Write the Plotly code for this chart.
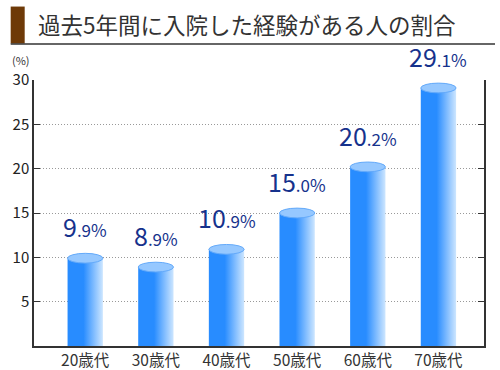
import plotly.graph_objects as go

categories = ["20歳代", "30歳代", "40歳代", "50歳代", "60歳代", "70歳代"]
values = [9.9, 8.9, 10.9, 15.0, 20.2, 29.1]
y_ticks = [5, 10, 15, 20, 25, 30]
title_text = "過去5年間に入院した経験がある人の割合"
unit_text = "(%)"

FONT = "Noto Sans CJK JP"
W, H = 500, 370
ML, MR, MT, MB = 34.3, 16, 79.5, 24.3
PW = W - ML - MR
PH = H - MT - MB

def px_x(p):
    return (p - ML) / PW

def px_y(p):
    return 1 - (p - MT) / PH

body_dark = "rgb(40,140,255)"
body_light = "rgb(205,230,255)"
top_fill = "rgb(150,200,255)"
top_line = "rgb(100,170,250)"
label_color = "rgb(22,50,140)"

bw = 0.5
ell_h = 1.1

fig = go.Figure()
shapes = []
annotations = []
for i, (c, v) in enumerate(zip(categories, values)):
    x0, x1 = i - bw / 2, i + bw / 2
    fig.add_trace(go.Scatter(
        x=[x0, x1, x1, x0, x0], y=[0, 0, v, v, 0],
        mode="lines", line=dict(width=0), fill="toself",
        fillgradient=dict(type="horizontal",
                          colorscale=[[0, body_dark], [0.45, body_dark], [1, body_light]]),
        hoverinfo="skip", showlegend=False,
    ))
    shapes.append(dict(type="circle", xref="x", yref="y",
                       x0=x0, x1=x1, y0=v - ell_h / 2, y1=v + ell_h / 2,
                       fillcolor=top_fill, line=dict(color=top_line, width=1),
                       layer="above"))
    s = f"{v:.1f}"
    ip, fp = s.split(".")
    annotations.append(dict(
        x=i, y=v + ell_h / 2, xref="x", yref="y", yanchor="bottom", xanchor="center",
        yshift=7, showarrow=False,
        text=f"{ip}<span style='font-size:17px'>.{fp}%</span>",
        font=dict(family=FONT, size=25, color=label_color),
    ))

# title decorations
shapes.append(dict(type="rect", xref="paper", yref="paper",
                   x0=px_x(11), x1=px_x(25), y0=px_y(43), y1=px_y(6),
                   fillcolor="rgb(110,58,8)", line=dict(width=0), layer="above"))
shapes.append(dict(type="line", xref="paper", yref="paper",
                   x0=px_x(11), x1=px_x(495), y0=px_y(43.5), y1=px_y(43.5),
                   line=dict(color="#333333", width=1.5), layer="above"))

annotations.append(dict(xref="paper", yref="paper", x=px_x(36), y=px_y(23),
                        xanchor="left", yanchor="middle", showarrow=False,
                        text=title_text,
                        font=dict(family=FONT, size=22.5, color="#333333")))
annotations.append(dict(xref="paper", yref="paper", x=px_x(10), y=px_y(59),
                        xanchor="left", yanchor="middle", showarrow=False,
                        text=unit_text,
                        font=dict(family=FONT, size=11, color="#333333")))

fig.update_layout(
    width=W, height=H,
    margin=dict(l=ML, r=MR, t=MT, b=MB, pad=0, autoexpand=False),
    paper_bgcolor="white", plot_bgcolor="white",
    shapes=shapes, annotations=annotations,
    showlegend=False,
    xaxis=dict(range=[-0.725, 5.645], tickmode="array",
               tickvals=list(range(len(categories))), ticktext=categories,
               showline=True, linecolor="#333333", linewidth=1.5,
               showgrid=False, zeroline=False, ticks="", automargin=False,
               tickfont=dict(family=FONT, size=15.5, color="#333333"),
               fixedrange=True),
    yaxis=dict(range=[0, 30], tickmode="array", tickvals=y_ticks,
               showline=True, linecolor="#333333", linewidth=1.5,
               mirror="ticks", ticks="inside", ticklen=6, tickcolor="#333333",
               showgrid=True, gridcolor="#999999", griddash="1px,2px", gridwidth=1,
               zeroline=False, automargin=False,
               tickfont=dict(family=FONT, size=15, color="#222222"),
               fixedrange=True),
)

fig.write_html("out.html")
